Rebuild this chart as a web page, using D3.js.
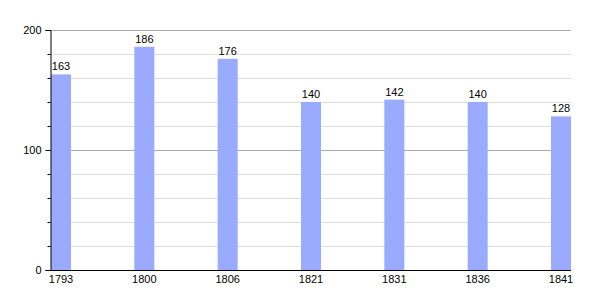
<!DOCTYPE html>
<html>
<head>
<meta charset="utf-8">
<script src="https://cdn.jsdelivr.net/npm/d3@7"></script>
<style>
  body { margin: 0; background: #fff; }
  text { font-family: "Liberation Sans", Arial, sans-serif; font-size: 11px; fill: #000; }
</style>
</head>
<body>
<div id="chart"></div>
<script>
const years = ['1793', '1800', '1806', '1821', '1831', '1836', '1841'];
const population = [163, 186, 176, 140, 142, 140, 128];
const majorTicks = [0, 100, 200];
const minorTicks = [20, 40, 60, 80, 120, 140, 160, 180];

const width = 600;
const height = 300;
const margin = { top: 30, right: 29, bottom: 30, left: 50 };
const barWidth = 20;

const svg = d3.select('#chart')
  .append('svg')
  .attr('width', width)
  .attr('height', height);

const x = d3.scalePoint()
  .domain(years)
  .range([margin.left + 1, width - margin.right - barWidth]);

const y = d3.scaleLinear()
  .domain([0, 200])
  .range([height - margin.bottom, margin.top]);

// gridlines
svg.append('g')
  .selectAll('line')
  .data(minorTicks)
  .join('line')
  .attr('x1', margin.left)
  .attr('x2', width - margin.right)
  .attr('y1', d => Math.round(y(d)) + 0.5)
  .attr('y2', d => Math.round(y(d)) + 0.5)
  .attr('stroke', '#dddddd');

svg.append('g')
  .selectAll('line')
  .data(majorTicks.filter(d => d > 0))
  .join('line')
  .attr('x1', margin.left)
  .attr('x2', width - margin.right)
  .attr('y1', d => Math.round(y(d)) + 0.5)
  .attr('y2', d => Math.round(y(d)) + 0.5)
  .attr('stroke', '#aaaaaa');

// bars
svg.append('g')
  .selectAll('rect')
  .data(population)
  .join('rect')
  .attr('x', (d, i) => x(years[i]))
  .attr('y', d => y(d))
  .attr('width', barWidth)
  .attr('height', d => y(0) - y(d))
  .attr('fill', '#99aaff');

// value labels
svg.append('g')
  .selectAll('text')
  .data(population)
  .join('text')
  .attr('x', (d, i) => x(years[i]) + barWidth / 2)
  .attr('y', d => y(d) - 4)
  .attr('text-anchor', 'middle')
  .text(d => d);

// y axis
const yAxis = d3.axisLeft(y)
  .tickValues(majorTicks)
  .tickSize(5)
  .tickPadding(4)
  .tickFormat(d3.format('d'));

svg.append('g')
  .attr('transform', `translate(${margin.left + 0.5},0)`)
  .call(yAxis)
  .call(g => g.select('.domain').attr('stroke', '#000'))
  .call(g => g.selectAll('text').style('font-size', '11px'));

svg.append('g')
  .attr('transform', `translate(${margin.left + 0.5},0)`)
  .call(d3.axisLeft(y).tickValues(minorTicks).tickSize(3).tickFormat(''))
  .call(g => g.select('.domain').remove());

// x axis
const xAxis = d3.axisBottom(x)
  .tickSize(0)
  .tickPadding(5);

svg.append('g')
  .attr('transform', `translate(0,${Math.round(y(0)) + 0.5})`)
  .call(xAxis)
  .call(g => g.select('.domain')
    .attr('d', `M${margin.left},0H${width - margin.right}`)
    .attr('stroke', '#000'))
  .call(g => g.selectAll('.tick').attr('transform', d => `translate(${x(d) + barWidth / 2},0)`));
</script>
</body>
</html>
